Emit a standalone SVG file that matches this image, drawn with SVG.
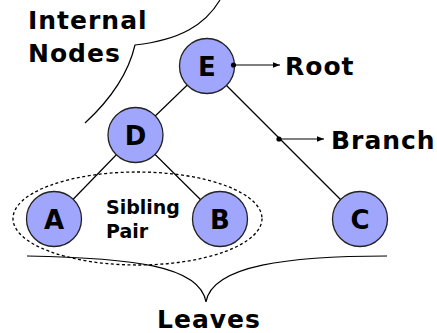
<svg xmlns="http://www.w3.org/2000/svg" width="437" height="333" viewBox="0 0 437 333">
<style>
.n{fill:#a0a6fc;stroke:#222;stroke-width:1.3}
.t{font-family:"DejaVu Sans",Verdana,sans-serif;font-weight:bold;fill:#000}
.lt{font-size:26px;text-anchor:middle}
.big{font-size:25px;letter-spacing:1px}
.e{stroke:#000;stroke-width:1.2;fill:none}
</style>
<defs>
<marker id="ah" viewBox="0 0 10 10" refX="10" refY="5" markerWidth="7" markerHeight="7" orient="auto" markerUnits="userSpaceOnUse"><path d="M0,1 L10,5 L0,9 z" fill="#000"/></marker>
</defs>
<rect width="437" height="333" fill="#fff"/>
<g id="connectors">
<line class="e" x1="207" y1="66" x2="135.5" y2="135"/>
<line class="e" x1="207" y1="66" x2="360" y2="219"/>
<line class="e" x1="135.5" y1="135" x2="54" y2="219"/>
<line class="e" x1="135.5" y1="135" x2="220" y2="219"/>
</g>
<g id="E"><circle class="n" cx="207" cy="66" r="27.5"/><text class="t lt" x="207" y="75.5">E</text></g>
<g id="D"><circle class="n" cx="135.5" cy="135" r="27.5"/><text class="t lt" x="135.5" y="144.5">D</text></g>
<g id="A"><circle class="n" cx="54" cy="219" r="27.5"/><text class="t lt" x="54" y="228.5">A</text></g>
<g id="B"><circle class="n" cx="220" cy="219" r="27.5"/><text class="t lt" x="220" y="228.5">B</text></g>
<g id="C"><circle class="n" cx="360" cy="219" r="27.5"/><text class="t lt" x="360" y="228.5">C</text></g>
<g id="sibling">
<ellipse cx="137.5" cy="218.5" rx="124.5" ry="46.5" fill="none" stroke="#000" stroke-width="1.3" stroke-dasharray="3,2.5"/>
<text class="t" font-size="19" x="106" y="214">Sibling</text>
<text class="t" font-size="19" x="106" y="238">Pair</text>
</g>
<g id="root-label">
<circle cx="233.5" cy="65" r="2.6" fill="#000"/>
<line x1="233.5" y1="65" x2="280" y2="65" stroke="#000" stroke-width="1.2" marker-end="url(#ah)"/>
<text class="t big" x="285" y="75">Root</text>
</g>
<g id="branch-label">
<circle cx="279" cy="139" r="2.6" fill="#000"/>
<line x1="279" y1="139" x2="324" y2="139" stroke="#000" stroke-width="1.2" marker-end="url(#ah)"/>
<text class="t big" x="331" y="149">Branch</text>
</g>
<g id="internal">
<path class="e" d="M220,0 C205,25 180,40 135,45 C128,75 110,100 85,123"/>
<text class="t big" x="28" y="29">Internal</text>
<text class="t big" x="28" y="62">Nodes</text>
</g>
<g id="leaves">
<path class="e" d="M27,256 C130,258 200,265 206,302 C212,265 290,256 387,256"/>
<text class="t big" x="157" y="328">Leaves</text>
</g>
</svg>
